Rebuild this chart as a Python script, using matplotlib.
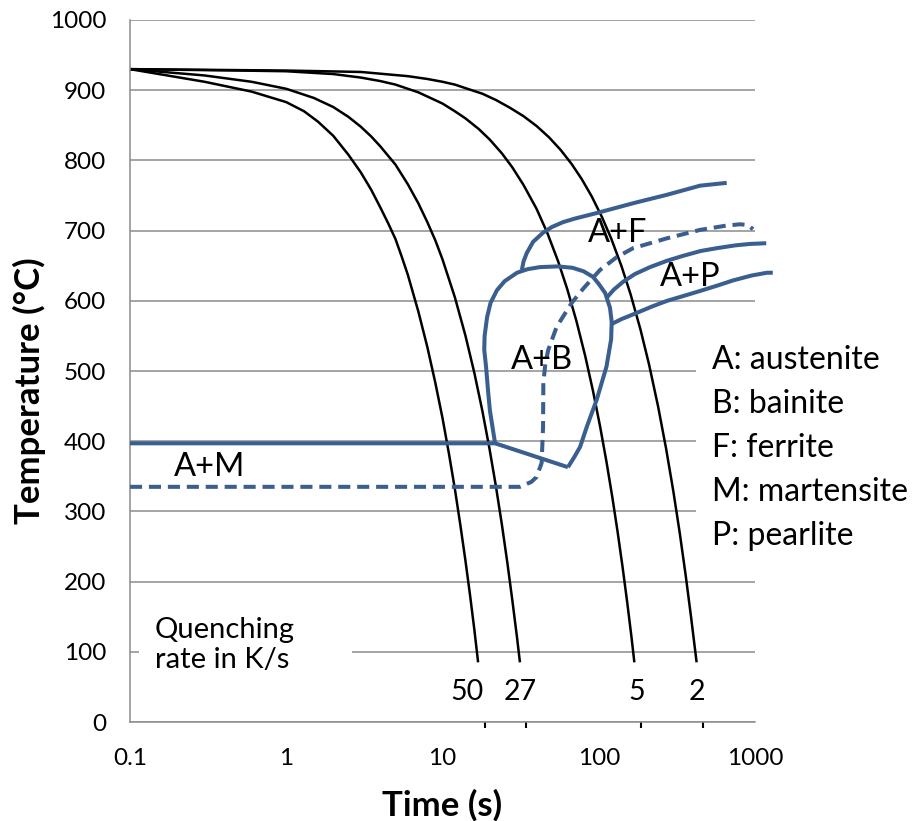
import matplotlib
matplotlib.use("Agg")
import matplotlib.pyplot as plt
from matplotlib.patches import Rectangle

plt.rcParams["font.family"] = ["Lato", "DejaVu Sans"]

# cooling curves (time s, temperature C)
rate_labels = ["50", "27", "5", "2"]
cool_t = [
    [0.1, 0.3, 0.6, 1, 1.3, 1.6, 2, 2.5, 3, 3.5, 4, 4.5, 5, 5.5, 6, 7, 8, 9, 10, 11, 12, 13, 14,
     15, 16, 16.9],
    [0.1, 0.3, 0.6, 1, 1.5, 2, 2.5, 3, 3.5, 4, 5, 6, 7, 8, 9, 10, 12, 14, 16, 18, 20, 22, 24, 26,
     28, 30, 31.3],
    [0.1, 0.5, 1, 2, 3, 4, 5, 6, 7, 8, 10, 12, 14, 17, 20, 24, 28, 33, 40, 47, 55, 63, 72, 82, 92,
     102, 112, 122, 132, 142, 152, 162, 169],
    [0.1, 1, 3, 6, 8, 10, 12, 14, 18, 22, 27, 33, 40, 48, 57, 67, 78, 90, 105, 120, 140, 160, 185,
     210, 240, 270, 300, 330, 360, 390, 423],
]
cool_T = [
    [930, 912, 898, 883, 870, 855, 835, 808, 783, 758, 733, 710, 688, 662, 637, 585, 534, 483, 433,
     382, 332, 281, 231, 181, 131, 85],
    [930, 921, 912, 902, 889, 876, 862, 848, 834, 820, 794, 766, 739, 712, 686, 659, 605, 551, 497,
     443, 389, 335, 281, 227, 173, 120, 85],
    [930, 928, 927, 923, 918, 913, 908, 902, 897, 891, 881, 870, 860, 845, 830, 810, 790, 765, 731,
     696, 656, 616, 571, 521, 471, 421, 371, 321, 271, 221, 171, 121, 85],
    [930, 928, 926, 920, 916, 912, 908, 903, 895, 886, 875, 863, 849, 833, 815, 795, 773, 749, 719,
     689, 649, 609, 559, 509, 449, 389, 329, 269, 209, 149, 85],
]
rate_label_t = [14.4, 31.3, 176, 426]
tick_t = [18.6, 34.4, 186, 465]

# martensite start (solid) and bainite nose
ms_t = [0.1, 21.7, 63.5]
ms_T = [397, 397, 363]
bain_t = [63.5, 70, 76, 84, 97, 112, 120, 121, 118, 110, 100, 92, 80, 68, 55, 42, 35, 30, 25,
          22.3, 20.3, 19.3, 18.6, 18.5, 19.0, 19.6, 20.1, 20.9, 21.7]
bain_T = [363, 378, 392, 421, 459, 506, 545, 570, 590, 611, 624, 634, 642, 647, 649, 648, 645, 640, 628,
          615, 597, 577, 550, 530, 506, 470, 444, 420, 397]

# ferrite start
ferr_t = [32.2, 33, 34.6, 38, 44, 50, 59, 70, 97, 166, 273, 445, 659]
ferr_T = [644, 656, 668, 684, 697, 705, 712, 717, 725, 739, 751, 764, 768]

# dashed (second condition)
dash_t = [0.1, 31.3, 37, 40, 43.1, 44, 44.2, 45.5, 47.5, 53.8, 67.1, 80, 102, 130, 166, 273, 445,
          650, 802, 900, 971]
dash_T = [335, 335, 342, 349, 369, 420, 483, 510, 530, 563, 597, 618, 644, 662, 675, 689, 701,
          707, 709, 708, 702]

# pearlite start / finish
pu_t = [113, 125, 143, 170, 213, 273, 346, 450, 571, 750, 929, 1180]
pu_T = [605, 616, 627, 638, 648, 657, 664, 671, 675, 679, 681, 682]
pl_t = [121, 140, 176, 220, 274, 350, 445, 580, 723, 950, 1194, 1300]
pl_T = [567, 574, 583, 592, 600, 607, 614, 622, 629, 636, 640, 640]

regions = ["A+F", "A+P", "A+B", "A+M"]
region_t = [132.8, 384, 43.4, 0.325]
region_T = [697, 634, 516, 363]

legend_lines = ["A: austenite", "B: bainite", "F: ferrite", "M: martensite", "P: pearlite"]

xticks = [0.1, 1, 10, 100, 1000]
xtick_labels = ["0.1", "1", "10", "100", "1000"]
yticks = list(range(0, 1001, 100))

blue = "#3A5F8E"
grid_c = "#8C8C8C"

fig = plt.figure(figsize=(9.24, 8.21), dpi=100)
ax = fig.add_axes([130 / 924, 1 - 722 / 821, 625 / 924, 702 / 821])
ax.set_xscale("log")
ax.set_xlim(0.1, 1000)
ax.set_ylim(0, 1000)

for spine in ["top", "right"]:
    ax.spines[spine].set_visible(False)
for spine in ["left", "bottom"]:
    ax.spines[spine].set_color(grid_c)
    ax.spines[spine].set_linewidth(1.1)

ax.set_axisbelow(True)
ax.yaxis.grid(True, color=grid_c, linewidth=1.1)
ax.set_yticks(yticks)
ax.set_yticklabels([str(v) for v in yticks], fontsize=17.5)
ax.set_xticks(xticks)
ax.set_xticklabels(xtick_labels, fontsize=17.5)
ax.set_xticks(tick_t, minor=True)
ax.set_xticklabels([], minor=True)
ax.tick_params(axis="both", which="major", length=0)
ax.tick_params(axis="y", pad=17)
ax.tick_params(axis="x", pad=19)
ax.tick_params(axis="x", which="minor", length=4, width=1.5, color="black", direction="out")

# white boxes behind the text blocks (they hide the gridlines)
ax.add_patch(Rectangle((0.0144, 0.0456), 0.341, 0.121, transform=ax.transAxes,
                       facecolor="white", edgecolor="none", zorder=1))
ax.add_patch(Rectangle((0.9056, 0.238), 0.5, 0.313, transform=ax.transAxes,
                       facecolor="white", edgecolor="none", zorder=1, clip_on=False))

for t, T in zip(cool_t, cool_T):
    ax.plot(t, T, color="black", linewidth=1.8, zorder=2, solid_capstyle="butt")

kw = dict(color=blue, linewidth=2.9, zorder=3, clip_on=False, solid_joinstyle="round",
          solid_capstyle="butt")
ax.plot(ms_t, ms_T, **kw)
ax.plot(bain_t, bain_T, **kw)
ax.plot(ferr_t, ferr_T, **kw)
ax.plot(pu_t, pu_T, **kw)
ax.plot(pl_t, pl_T, **kw)
ax.plot(dash_t, dash_T, color=blue, linewidth=2.9, zorder=3, clip_on=False,
        linestyle=(0, (3.0, 1.7)))

for lab, t, T in zip(regions, region_t, region_T):
    ax.text(t, T, lab, fontsize=23.5, ha="center", va="center", zorder=4)

for lab, t in zip(rate_labels, rate_label_t):
    ax.text(t, 43, lab, fontsize=20.5, ha="center", va="center", zorder=4)

ax.text(0.0400, 0.1097, "Quenching\nrate in K/s", transform=ax.transAxes, fontsize=21,
        ha="left", va="center", linespacing=1.2, zorder=4)

for i, line in enumerate(legend_lines):
    fig.text(712 / 924, 1 - (360 + 44 * i) / 821, line, fontsize=23, ha="left", va="center")

fig.text(29 / 924, 1 - 391 / 821, "Temperature (°C)", rotation=90, fontsize=25,
         fontweight="bold", ha="center", va="center")
fig.text(442 / 924, 1 - 805 / 821, "Time (s)", fontsize=25, fontweight="bold",
         ha="center", va="center")

fig.savefig("out.png", dpi=100)
